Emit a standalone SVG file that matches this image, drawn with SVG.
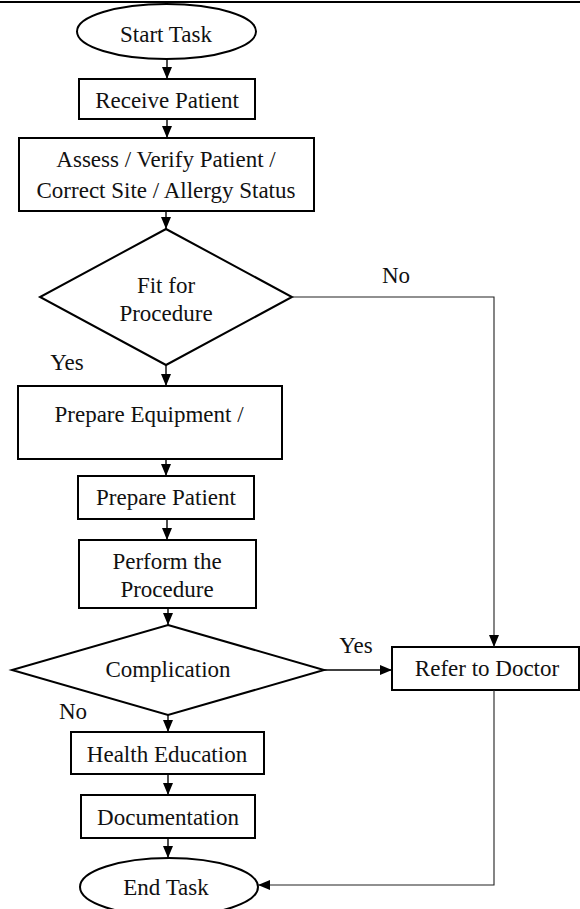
<svg xmlns="http://www.w3.org/2000/svg" width="580" height="909" viewBox="0 0 580 909">
  <style>
    .shape { fill: #fff; stroke: #000; stroke-width: 2; }
    .label { font-family: "Liberation Serif", "Times New Roman", serif; font-size: 23px; fill: #111; text-anchor: middle; }
    .edge { fill: none; stroke: #000; stroke-width: 1.4; }
    .edge-thin { fill: none; stroke: #222; stroke-width: 1.1; }
  </style>
  <defs>
    <marker id="arrow" markerUnits="userSpaceOnUse" markerWidth="12" markerHeight="12" viewBox="0 0 12 12" refX="12" refY="6" orient="auto">
      <path d="M0,1 L12,6 L0,11 Z" fill="#000"/>
    </marker>
  </defs>

  <rect width="580" height="909" fill="#fff"/>
  <!-- page rule -->
  <line x1="0" y1="2" x2="580" y2="2" stroke="#000" stroke-width="2"/>

  <g id="start">
    <ellipse class="shape" cx="166.5" cy="31.5" rx="89.5" ry="27.5"/>
    <text class="label" x="166" y="42">Start Task</text>
  </g>
  <g id="receive">
    <rect class="shape" x="79" y="79" width="176" height="40"/>
    <text class="label" x="167" y="108">Receive Patient</text>
  </g>
  <g id="assess">
    <rect class="shape" x="19" y="138" width="295" height="73"/>
    <text class="label" x="166" y="167">Assess / Verify Patient /</text>
    <text class="label" x="166" y="198">Correct Site / Allergy Status</text>
  </g>
  <g id="fit">
    <polygon class="shape" points="166,229 292,297 166,365 40,297"/>
    <text class="label" x="166" y="293">Fit for</text>
    <text class="label" x="166" y="321">Procedure</text>
  </g>
  <g id="equipment">
    <rect class="shape" x="18" y="386" width="264" height="73"/>
    <text class="label" x="149" y="422">Prepare Equipment /</text>
  </g>
  <g id="prep-patient">
    <rect class="shape" x="78" y="476" width="176" height="43"/>
    <text class="label" x="166" y="505">Prepare Patient</text>
  </g>
  <g id="perform">
    <rect class="shape" x="79" y="540" width="177" height="68"/>
    <text class="label" x="167" y="569">Perform the</text>
    <text class="label" x="167" y="597">Procedure</text>
  </g>
  <g id="complication">
    <polygon class="shape" points="168,625 324,670 168,715 12,670"/>
    <text class="label" x="168" y="677">Complication</text>
  </g>
  <g id="refer">
    <rect class="shape" x="392" y="647" width="187" height="43"/>
    <text class="label" x="487" y="676">Refer to Doctor</text>
  </g>
  <g id="health">
    <rect class="shape" x="71" y="732" width="193" height="42"/>
    <text class="label" x="167" y="762">Health Education</text>
  </g>
  <g id="documentation">
    <rect class="shape" x="81" y="795" width="174" height="43"/>
    <text class="label" x="168" y="825">Documentation</text>
  </g>
  <g id="end">
    <ellipse class="shape" cx="169" cy="887" rx="89" ry="29"/>
    <text class="label" x="166" y="895">End Task</text>
  </g>

  <g id="connectors">
    <line class="edge" x1="167" y1="59" x2="167" y2="79" marker-end="url(#arrow)"/>
    <line class="edge" x1="167" y1="119" x2="167" y2="138" marker-end="url(#arrow)"/>
    <line class="edge" x1="166" y1="211" x2="166" y2="229" marker-end="url(#arrow)"/>
    <line class="edge" x1="166" y1="365" x2="166" y2="386" marker-end="url(#arrow)"/>
    <polyline class="edge-thin" points="292,297 494,297 494,647" marker-end="url(#arrow)"/>
    <line class="edge" x1="166" y1="459" x2="166" y2="476" marker-end="url(#arrow)"/>
    <line class="edge" x1="167" y1="519" x2="167" y2="540" marker-end="url(#arrow)"/>
    <line class="edge" x1="168" y1="608" x2="168" y2="625" marker-end="url(#arrow)"/>
    <line class="edge" x1="324" y1="670" x2="392" y2="670" marker-end="url(#arrow)"/>
    <line class="edge" x1="168" y1="715" x2="168" y2="732" marker-end="url(#arrow)"/>
    <line class="edge" x1="168" y1="774" x2="168" y2="795" marker-end="url(#arrow)"/>
    <line class="edge" x1="168" y1="838" x2="168" y2="858" marker-end="url(#arrow)"/>
    <polyline class="edge-thin" points="494,690 494,885 258,885" marker-end="url(#arrow)"/>
    <text class="label" x="396" y="283">No</text>
    <text class="label" x="67" y="370">Yes</text>
    <text class="label" x="356" y="653">Yes</text>
    <text class="label" x="73" y="719">No</text>
  </g>
</svg>
